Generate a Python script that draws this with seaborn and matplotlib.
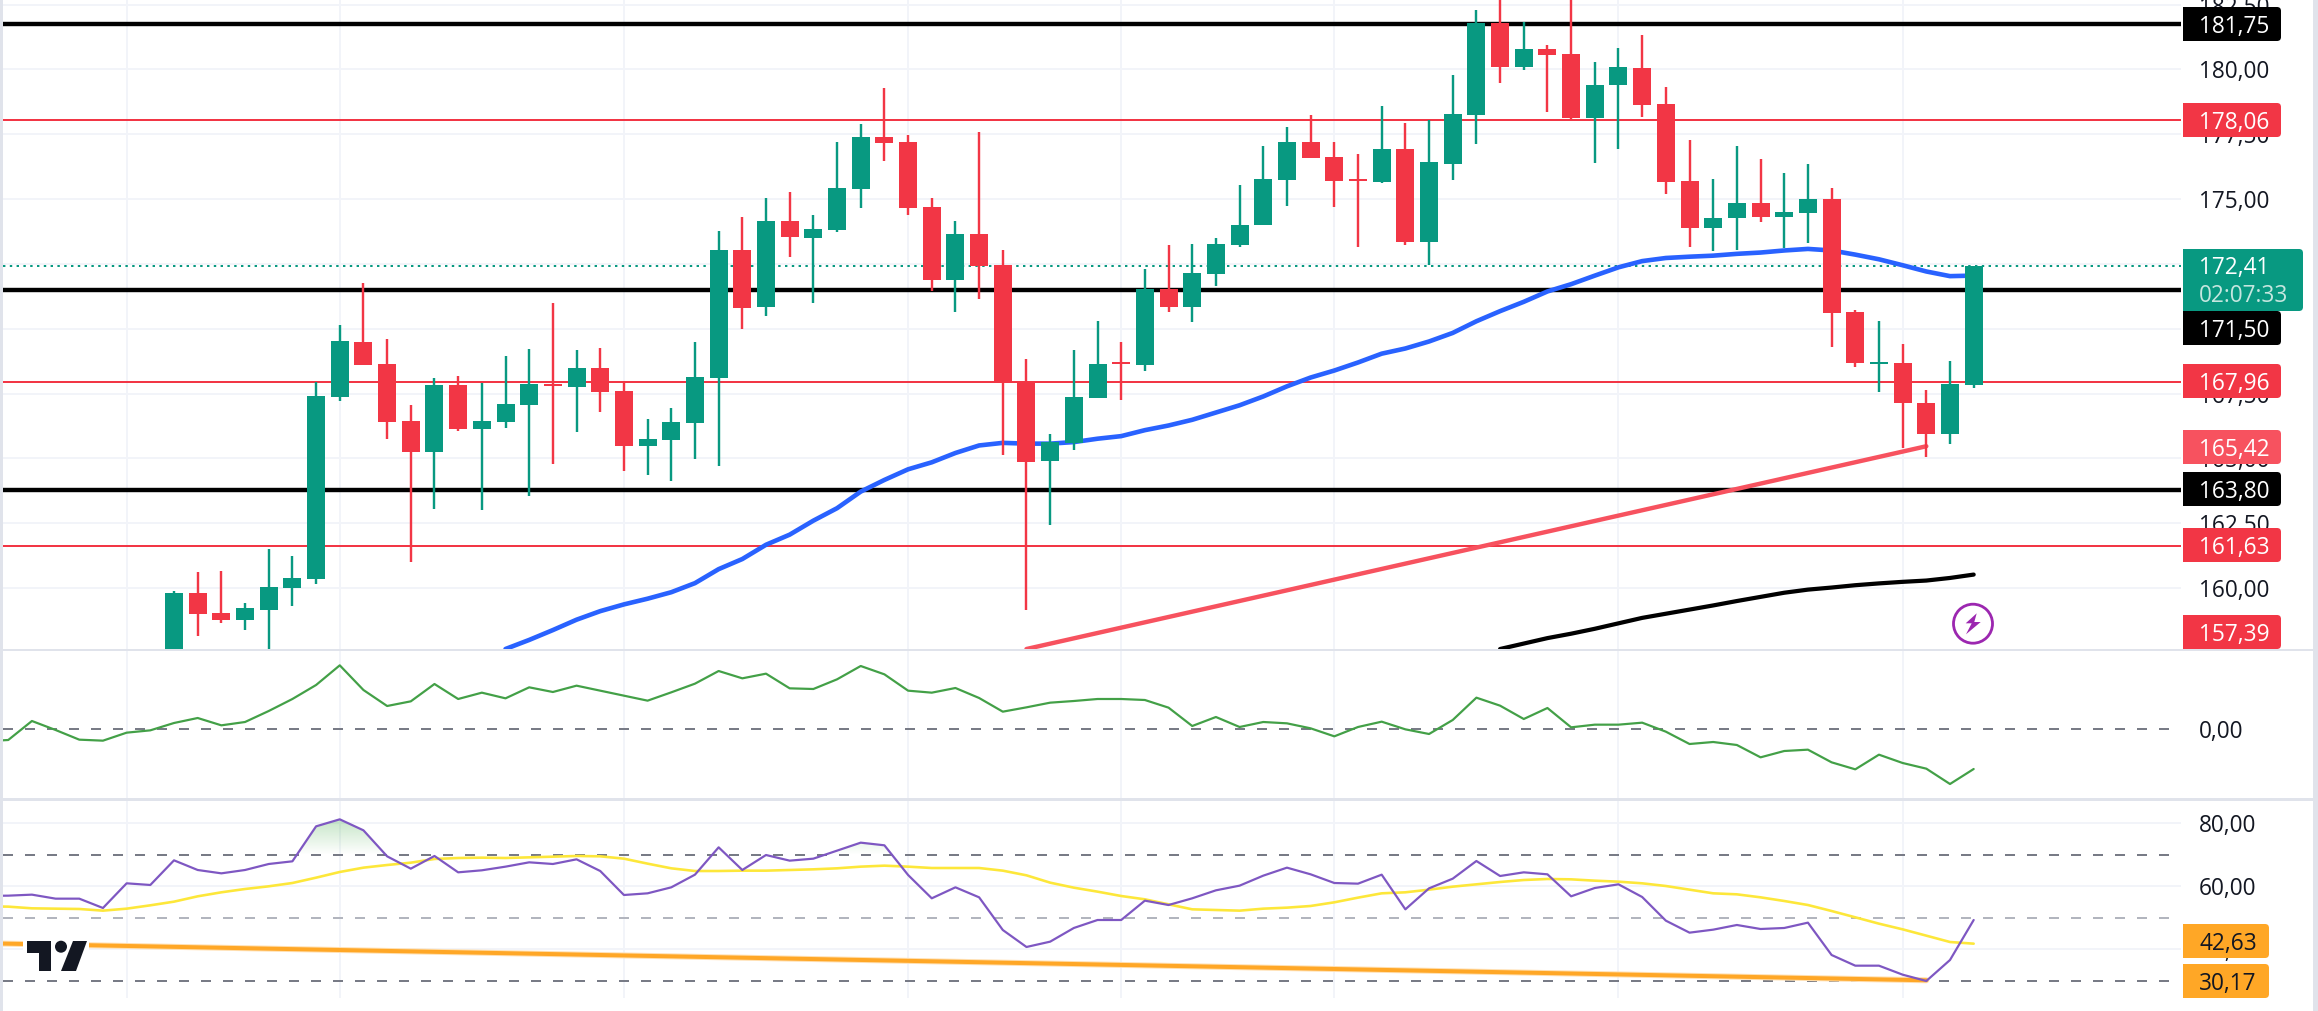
#!/usr/bin/env python3
# -*- coding: utf-8 -*-

"""Candlestick chart with momentum and RSI panes, drawn with seaborn."""

import matplotlib
matplotlib.use('Agg')
import matplotlib.pyplot as plt
import numpy as np
import pandas as pd
import seaborn as sns
from matplotlib.patches import Circle, FancyBboxPatch, PathPatch, Polygon, Rectangle
from matplotlib.path import Path
from matplotlib.ticker import FuncFormatter

# Candles
open_price = [157.5, 159.81, 159.04, 158.78, 159.17, 160.0, 160.34, 167.37, 169.48, 168.64,
              166.44, 165.24, 167.82, 166.14, 166.40, 167.06, 167.87, 167.76, 168.49, 167.60,
              165.47, 165.71, 166.36, 168.10, 173.04, 170.84, 174.16, 173.51, 173.81, 175.39,
              177.40, 177.21, 174.69, 171.88, 173.65, 172.45, 167.99, 164.90, 165.60, 167.32,
              168.72, 168.60, 171.53, 170.84, 172.11, 173.23, 173.99, 175.73, 177.21, 176.62,
              175.78, 175.67, 176.93, 173.34, 176.35, 178.26, 181.79, 180.11, 180.80, 180.60,
              178.13, 179.40, 180.05, 178.67, 175.70, 173.88, 174.27, 174.85, 174.30, 174.46,
              175.0, 170.65, 168.65, 168.69, 167.14, 165.94, 167.82]
high_price = [159.89, 160.62, 160.65, 159.42, 161.51, 161.23, 167.94, 170.15, 171.77, 169.61,
              167.06, 168.10, 168.18, 167.91, 168.94, 169.22, 170.99, 169.17, 169.25, 167.99,
              166.53, 166.95, 169.48, 173.77, 174.30, 175.05, 175.28, 174.38, 177.21, 177.89,
              179.29, 177.47, 175.05, 174.16, 177.58, 173.04, 168.83, 165.94, 169.17, 170.29,
              169.48, 172.31, 173.23, 173.26, 173.51, 175.54, 177.05, 177.78, 178.25, 177.21,
              176.74, 178.59, 177.94, 178.05, 179.79, 182.29, 182.9, 181.83, 180.94, 183.0,
              180.29, 180.83, 181.33, 179.32, 177.27, 175.78, 177.05, 176.54, 176.01, 176.35,
              175.42, 170.73, 170.29, 169.42, 167.63, 168.75, 172.42]
low_price = [157.2, 158.17, 158.64, 158.39, 157.5, 159.30, 160.16, 167.21, 168.60, 165.75,
             161.01, 163.05, 166.06, 163.0, 166.17, 163.56, 164.79, 166.02, 166.79, 164.51,
             164.37, 164.12, 164.98, 164.71, 169.98, 170.49, 172.76, 170.99, 173.75, 174.66,
             176.48, 174.38, 171.46, 170.65, 171.15, 165.13, 159.17, 162.44, 165.32, 167.32,
             167.26, 168.38, 170.65, 170.26, 171.66, 173.15, 173.99, 174.74, 176.59, 174.69,
             173.15, 175.62, 173.23, 172.45, 175.73, 177.13, 179.48, 179.98, 178.36, 178.08,
             176.41, 176.93, 178.17, 175.19, 173.15, 173.00, 173.04, 174.12, 173.12, 173.30,
             169.30, 168.54, 167.57, 165.41, 165.05, 165.55, 167.71]
close_price = [159.81, 159.01, 158.78, 159.24, 160.03, 160.39, 167.40, 169.53, 168.60, 166.40,
               165.24, 167.82, 166.14, 166.44, 167.09, 167.87, 167.78, 168.49, 167.57, 165.47,
               165.75, 166.40, 168.13, 173.04, 170.81, 174.16, 173.54, 173.85, 175.42, 177.40,
               177.16, 174.66, 171.88, 173.65, 172.42, 167.91, 164.85, 165.63, 167.37, 168.64,
               168.65, 171.53, 170.84, 172.14, 173.26, 173.99, 175.78, 177.21, 176.59, 175.70,
               175.71, 176.93, 173.34, 176.43, 178.28, 181.79, 180.11, 180.80, 180.55, 178.13,
               179.40, 180.10, 178.64, 175.67, 173.88, 174.27, 174.85, 174.30, 174.50, 175.0,
               170.60, 168.69, 168.72, 167.14, 165.94, 167.87, 172.42]

# Moving averages on the price pane
blue_ma_start = 14
blue_ma = [157.65, 158.0, 158.38, 158.78, 159.11, 159.37, 159.59, 159.84, 160.19, 160.73, 161.12, 161.67,
           162.06, 162.60, 163.08, 163.72, 164.17, 164.58, 164.85, 165.21, 165.50, 165.60, 165.57, 165.57,
           165.63, 165.76, 165.86, 166.09, 166.27, 166.49, 166.77, 167.05, 167.39, 167.78, 168.12, 168.39,
           168.70, 169.04, 169.24, 169.51, 169.84, 170.29, 170.68, 171.04, 171.44, 171.72, 172.05, 172.37,
           172.61, 172.73, 172.78, 172.82, 172.89, 172.94, 173.02, 173.08, 173.02, 172.86, 172.68, 172.45,
           172.21, 172.03, 172.05]
black_ma_start = 56
black_ma = [157.65, 157.86, 158.07, 158.24, 158.43, 158.64, 158.85, 159.01, 159.17, 159.33, 159.50,
            159.66, 159.82, 159.94, 160.02, 160.11, 160.18, 160.24, 160.29, 160.39, 160.52]

# Levels and the drawn trend lines
black_levels = [181.75, 171.50, 163.80]
red_levels = [178.06, 167.96, 161.63]
last_price = 172.41
red_trend_x = [36, 74]
red_trend_y = [157.65, 165.47]
orange_trend_x = [-7.25, 74]
orange_trend_y = [41.8, 30.17]

# Lower panes start eight candles before the first visible candle (first point is cut by the edge)
pane_start = -8
momentum = [-3.7, -3.3, 2.4, -0.3, -3.2, -3.5, -1.1, -0.4, 1.8, 3.3, 1.1, 2.1, 5.4, 9.0, 13.2, 19.1, 11.7,
            6.9, 8.3, 13.5, 9.0, 10.9, 9.2, 12.5, 11.1, 13.0, 11.5, 10.0, 8.5, 11.0, 13.6, 17.4, 15.2,
            16.6, 12.2, 12.0, 14.9, 18.9, 16.4, 11.5, 10.9, 12.3, 9.3, 5.2, 6.5, 7.9, 8.4, 9.0, 9.0,
            8.7, 6.4, 0.9, 3.6, 0.6, 2.1, 1.7, 0.2, -2.2, 0.6, 2.2, -0.1, -1.5, 2.7, 9.4, 7.0, 3.0, 6.3,
            0.5, 1.3, 1.3, 1.9, -0.8, -4.5, -3.9, -4.8, -8.5, -6.6, -6.2, -10.0, -12.1, -7.7, -10.2,
            -11.9, -16.5, -12.0]
rsi = [56.9, 56.98, 57.30, 56.03, 56.03, 53.07, 60.89, 60.36, 68.17, 65.11, 64.05, 65.11, 67.01, 67.86,
       78.94, 81.16, 77.68, 69.44, 65.53, 69.55, 64.37, 65.01, 66.17, 67.54, 67.01, 68.49, 64.79,
       57.19, 57.72, 59.62, 63.63, 72.29, 65.11, 69.86, 68.07, 68.70, 71.24, 73.77, 72.93, 63.53,
       56.14, 59.62, 56.45, 46.10, 40.72, 42.41, 46.74, 49.27, 49.27, 55.40, 54.02, 56.14, 58.67,
       60.15, 63.32, 65.85, 63.74, 60.99, 60.78, 63.63, 52.65, 59.30, 62.36, 67.96, 63.21, 64.37,
       63.74, 56.77, 59.41, 60.57, 56.56, 49.06, 45.26, 46.21, 47.69, 46.42, 46.74, 48.43, 38.18,
       34.80, 34.80, 31.95, 29.95, 36.60, 49.27]
rsi_ma = [53.6, 53.50, 52.97, 52.86, 52.76, 52.23, 52.86, 53.92, 55.08, 56.77, 58.04, 59.09, 59.94, 60.99,
          62.68, 64.48, 65.85, 66.69, 67.43, 68.60, 68.91, 69.02, 68.91, 69.12, 69.33, 69.55, 69.44,
          68.70, 67.12, 65.64, 64.79, 64.79, 64.90, 64.90, 65.11, 65.32, 65.64, 66.17, 66.48, 66.17,
          65.74, 65.74, 65.74, 64.90, 63.42, 61.10, 59.51, 58.25, 56.87, 55.82, 54.23, 52.65, 52.44,
          52.23, 52.86, 53.18, 53.71, 54.87, 56.35, 57.72, 58.04, 58.88, 59.83, 60.57, 61.31, 61.94,
          62.26, 62.15, 61.73, 61.41, 60.89, 60.04, 58.88, 57.72, 57.40, 56.45, 55.29, 54.02, 52.12,
          50.12, 48.11, 46.31, 44.31, 42.30, 41.77]

# Axis ticks
grid_candles = [-2, 7, 19, 31, 40, 49, 61, 73]
price_ticks = [160.0, 162.5, 165.0, 167.5, 170.0, 172.5, 175.0, 177.5, 180.0, 182.5]
momentum_ticks = [0.0]
rsi_ticks = [40.0, 60.0, 80.0]
rsi_dashed = [70.0, 30.0]
rsi_mid = 50.0

# Price tags on the right axis
tag_labels = ['181,75', '178,06', '171,50', '167,96', '165,42', '163,80', '161,63', '157,39']
tag_colors = ['#000000', '#F23645', '#000000', '#F23645', '#F7525F', '#000000', '#F23645', '#F23645']
tag_tops = [7, 103, 311, 364, 430, 472, 528, 615]

UP = '#089981'
DOWN = '#F23645'
GRID = '#F2F4F9'
SEP = '#E0E3EB'
DASH = '#787B86'
FONT_SIZE = 16.3
W, H = 2318, 1011
PLOT_L, PLOT_R = 3, 2181
# candle 0 sits at x=174 px, one candle is 23.68 px wide
CANDLE_PX = 23.68
XLIM = ((PLOT_L - 174) / CANDLE_PX, (PLOT_R - 174) / CANDLE_PX)
PX = 0.72  # points per pixel at dpi 100


def make_axes(fig, top, bottom):
    ax = fig.add_axes([PLOT_L / W, 1 - bottom / H, (PLOT_R - PLOT_L) / W, (bottom - top) / H])
    ax.set_facecolor('none')
    for spine in ax.spines.values():
        spine.set_visible(False)
    ax.set_xlim(*XLIM)
    ax.set_xticks(grid_candles)
    ax.yaxis.tick_right()
    ax.tick_params(labelbottom=False, labelleft=False, labelright=True, left=False, right=False,
                   bottom=False, length=0, pad=18 * PX, labelsize=FONT_SIZE, labelcolor='#131722')
    ax.yaxis.set_major_formatter(FuncFormatter(lambda v, _: f'{v:.2f}'.replace('.', ',')))
    ax.grid(True, color=GRID, lw=2 * PX)
    ax.set_axisbelow(True)
    return ax


def line(ax, x, y, color, width, **kw):
    sns.lineplot(x=x, y=y, ax=ax, color=color, linewidth=width * PX, legend=False, **kw)
    ax.set_xlabel('')
    ax.set_ylabel('')


def draw_price(ax, df):
    ax.set_ylim(157.65, 182.68)
    ax.set_yticks(price_ticks)
    ax.axhline(last_price, color=UP, lw=2 * PX, ls=(0, (1.2, 2.2)), zorder=1.5)
    for lvl in black_levels:
        ax.axhline(lvl, color='black', lw=4.4 * PX, zorder=1.6)
    for lvl in red_levels:
        ax.axhline(lvl, color=DOWN, lw=2 * PX, zorder=1.6)

    line(ax, np.arange(len(blue_ma)) + blue_ma_start, blue_ma, '#2962FF', 4.6, zorder=2)
    line(ax, np.arange(len(black_ma)) + black_ma_start, black_ma, 'black', 4.2, zorder=2)
    line(ax, red_trend_x, red_trend_y, '#F7525F', 4.4, zorder=2)

    # candles: wick first, then the body
    ax.vlines(df['idx'], df['low'], df['high'], colors=df['color'], lw=2.4 * PX, zorder=3)
    ax.bar(df['idx'], df['body'], bottom=df['base'], width=0.76, color=df['color'], lw=0, zorder=4)
    ax.set_xlim(*XLIM)
    ax.set_ylim(157.65, 182.68)


def draw_momentum(ax):
    ax.set_ylim(-21.0, 23.7)
    ax.set_yticks(momentum_ticks)
    ax.grid(False, axis='y')
    ax.axhline(0, color=DASH, lw=2 * PX, ls=(0, (5, 6)))
    line(ax, np.arange(len(momentum)) + pane_start, momentum, '#43A047', 2.2)
    ax.set_xlim(*XLIM)
    ax.set_ylim(-21.0, 23.7)


def draw_rsi(ax):
    ax.set_ylim(24.56, 87.6)
    ax.set_yticks(rsi_ticks)
    x = np.arange(len(rsi)) + pane_start
    values = np.array(rsi)

    # green gradient where the RSI goes above the upper band
    poly = ax.fill_between(x, values, 70, where=values >= 70, interpolate=True, color='none', lw=0)
    shade = np.zeros((64, 1, 4))
    shade[..., :3] = matplotlib.colors.to_rgb('#4CAF50')
    shade[..., 3] = np.linspace(0.32, 0.0, 64)[:, None]
    im = ax.imshow(shade, extent=(x[0], x[-1], 70, max(rsi)), aspect='auto', origin='upper', zorder=1.2)
    clip = PathPatch(Path.make_compound_path(*poly.get_paths()), transform=ax.transData, fc='none', ec='none')
    ax.add_patch(clip)
    im.set_clip_path(clip)

    for lvl in rsi_dashed:
        ax.axhline(lvl, color=DASH, lw=2 * PX, ls=(0, (5, 6)), zorder=1.3)
    ax.axhline(rsi_mid, color='#B2B5BE', lw=2 * PX, ls=(0, (5, 6)), zorder=1.3)

    line(ax, orange_trend_x, orange_trend_y, '#FFE0B2', 6.0, zorder=1.8)
    line(ax, orange_trend_x, orange_trend_y, '#FFA726', 4.0, zorder=1.9)
    line(ax, x, rsi_ma, '#FDE73A', 2.6, zorder=2)
    line(ax, x, rsi, '#7E57C2', 2.2, zorder=2.1)
    ax.set_xlim(*XLIM)
    ax.set_ylim(24.56, 87.6)


def tag(ax, top, bottom, color, right=2281):
    ax.add_patch(FancyBboxPatch((2187, top + 2), right - 2189, bottom - top - 4, mutation_aspect=1,
                                boxstyle='round,pad=2,rounding_size=4', fc=color, ec='none', zorder=5))
    ax.add_patch(Rectangle((2183, top), 10, bottom - top, fc=color, ec='none', zorder=5))


def draw_overlay(ax):
    # separators and side strips
    ax.add_patch(Rectangle((0, 0), 3, H, fc=SEP, ec='none'))
    ax.add_patch(Rectangle((2313, 0), 5, H, fc=SEP, ec='none'))
    ax.add_patch(Rectangle((0, 649), 2313, 2, fc=SEP, ec='none'))
    ax.add_patch(Rectangle((0, 798), 2313, 2.5, fc=SEP, ec='none'))

    for label, color, top in zip(tag_labels, tag_colors, tag_tops):
        tag(ax, top, top + 34, color)
        ax.text(2199, top + 17, label, color='white', fontsize=FONT_SIZE, va='center_baseline', zorder=6)

    # current price tag with the countdown
    tag(ax, 249, 311, UP, right=2303)
    ax.text(2199, 265, '172,41', color='white', fontsize=FONT_SIZE, va='center_baseline', zorder=6)
    ax.text(2199, 292.5, '02:07:33', color='#C5E6DF', fontsize=FONT_SIZE, va='center_baseline', zorder=6)

    # RSI tags
    for label, top in zip(['42,63', '30,17'], [924, 964]):
        tag(ax, top, top + 34, '#FFA726', right=2269)
        ax.text(2199, top + 17, label, color='#131722', fontsize=FONT_SIZE, va='center_baseline', zorder=6)

    # lightning badge
    ax.add_patch(Circle((1973, 623.7), 19.5, fc='white', ec='#9C27B0', lw=2.8 * PX, zorder=5))
    ax.add_patch(Polygon([(1976.7, 613.3), (1965.7, 623.3), (1971.7, 623.3), (1966, 634.3),
                          (1980.7, 622), (1974.3, 622)], fc='#9C27B0', ec='none', zorder=6))

    # logo
    ax.add_patch(Rectangle((23, 936), 66, 40, fc='white', ec='none', zorder=5))
    ax.add_patch(Polygon([(26.7, 941), (51, 941), (51, 971), (39, 971), (39, 953), (26.7, 953)],
                         fc='#131722', ec='none', zorder=6))
    ax.add_patch(Circle((61, 946.7), 6, fc='#131722', ec='none', zorder=6))
    ax.add_patch(Polygon([(73, 941), (87, 941), (76, 971), (61, 971)], fc='#131722', ec='none', zorder=6))


def main():
    sns.set_theme(style='white')
    plt.rcParams['font.family'] = ['Open Sans', 'DejaVu Sans']

    df = pd.DataFrame({'open': open_price, 'high': high_price, 'low': low_price, 'close': close_price})
    df['idx'] = df.index
    df['color'] = np.where(df['close'] >= df['open'], UP, DOWN)
    df['base'] = df[['open', 'close']].min(axis=1)
    df['body'] = (df['open'] - df['close']).abs()

    fig = plt.figure(figsize=(W / 100, H / 100), dpi=100, facecolor='white')
    draw_price(make_axes(fig, 0, 649), df)
    draw_momentum(make_axes(fig, 650, 799))
    draw_rsi(make_axes(fig, 799, 998))

    overlay = fig.add_axes([0, 0, 1, 1], zorder=10)
    overlay.set_xlim(0, W)
    overlay.set_ylim(H, 0)
    overlay.axis('off')
    draw_overlay(overlay)

    fig.savefig('out.png', dpi=100, facecolor='white')


if __name__ == '__main__':
    main()
